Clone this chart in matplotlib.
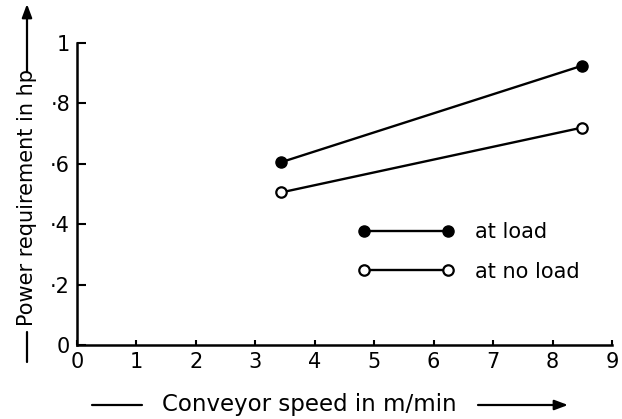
import matplotlib
matplotlib.use("Agg")
import matplotlib.pyplot as plt

# Conveyor speed (m/min) and power requirement (hp)
speed = [3.43, 8.5]
power_load = [0.605, 0.925]
power_no_load = [0.505, 0.72]

x_ticks = [0, 1, 2, 3, 4, 5, 6, 7, 8, 9]
y_ticks = [0, 0.2, 0.4, 0.6, 0.8, 1.0]
y_tick_labels = ["0", "·2", "·4", "·6", "·8", "1"]

W, H = 622, 419
plt.rcParams["font.family"] = ["DejaVu Sans"]

fig = plt.figure(figsize=(W / 100, H / 100), dpi=100)
fig.patch.set_facecolor("white")

# axes box in pixel terms
x0, x1 = 77, 612
y0, y1 = 345, 43
ax = fig.add_axes([x0 / W, 1 - y0 / H, (x1 - x0) / W, (y0 - y1) / H])
ax.set_xlim(0, 9)
ax.set_ylim(0, 1)

for s in ("top", "right"):
    ax.spines[s].set_visible(False)
for s in ("left", "bottom"):
    ax.spines[s].set_linewidth(1.8)
    ax.spines[s].set_color("black")

ax.set_xticks(x_ticks)
ax.set_xticklabels([str(t) for t in x_ticks])
ax.set_yticks(y_ticks)
ax.set_yticklabels(y_tick_labels)
ax.tick_params(axis="x", direction="in", length=3.5, width=1.5, pad=5,
               labelsize=15)
ax.tick_params(axis="y", direction="in", length=6.5, width=1.5, pad=5,
               labelsize=15)

ax.plot(speed, power_load, color="black", lw=1.7, marker="o", ms=8,
        mfc="black", mec="black", clip_on=False, label="at load")
ax.plot(speed, power_no_load, color="black", lw=1.7, marker="o", ms=7.5,
        mfc="white", mec="black", mew=1.6, clip_on=False, label="at no load")

ax.legend(loc="upper left", bbox_to_anchor=((358 - x0) / (x1 - x0), (y0 - 222) / (y0 - y1)),
          frameon=False, numpoints=2, handlelength=4.6, handletextpad=1.0,
          labelspacing=0.95, borderpad=0, borderaxespad=0, fontsize=15)

# axis titles with their leading rules and arrows
ax.set_xlabel("Conveyor speed in m/min", fontsize=16.5)
ax.xaxis.label.set_va("center")
ax.xaxis.set_label_coords((309 - x0) / (x1 - x0), (y0 - 404) / (y0 - y1))

ax.set_ylabel("Power requirement in hp", fontsize=15)
ax.yaxis.label.set_va("center")
ax.yaxis.set_label_coords((27 - x0) / (x1 - x0), (y0 - 197) / (y0 - y1))


def fig_pt(px, py):
    return (px / W, 1 - py / H)


def rule(p, q, head=False):
    ax.annotate("", xy=fig_pt(*q), xytext=fig_pt(*p),
                xycoords="figure fraction", textcoords="figure fraction",
                annotation_clip=False,
                arrowprops=dict(arrowstyle="-|>,head_length=0.8,head_width=0.3" if head else "-",
                                lw=1.6, color="black", shrinkA=0, shrinkB=0))


rule((92, 405), (142, 405))
rule((478, 405), (568, 405), head=True)
rule((27, 362), (27, 332))
rule((27, 72), (27, 4), head=True)

fig.savefig("out.png", dpi=100, facecolor="white")
